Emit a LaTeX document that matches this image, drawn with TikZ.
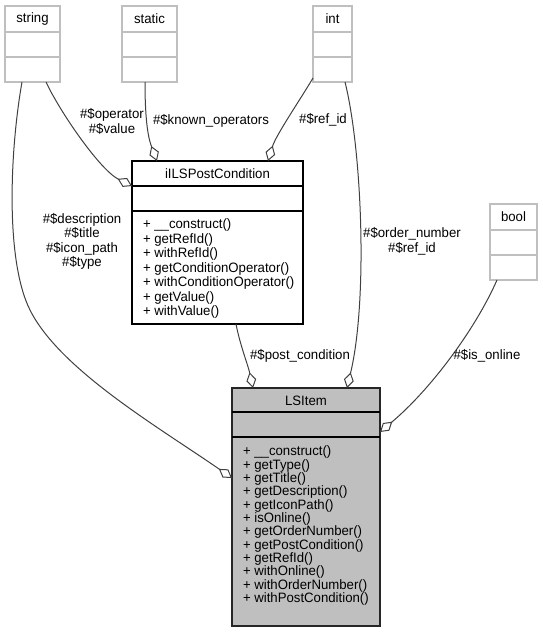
\documentclass[tikz,border=0pt]{standalone}
\usepackage{fontspec}
\setmainfont[FakeStretch=0.97]{Liberation Sans}
\usetikzlibrary{arrows.meta}
\definecolor{boxgray}{HTML}{BFBFBF}
\definecolor{edgegray}{HTML}{404040}
\definecolor{itemfill}{HTML}{BFBFBF}
\begin{document}
\begin{tikzpicture}[x=1pt,y=-1pt,
  every node/.style={font=\fontsize{13.6}{14.3}\selectfont, inner sep=0pt, outer sep=0pt},
  extbox/.style={draw=boxgray, line width=1.2pt, fill=white, anchor=north west, rectangle},
  extline/.style={draw=boxgray, line width=1.2pt},
  clsbox/.style={draw=black, line width=1.2pt, fill=white, anchor=north west, rectangle},
  mainbox/.style={draw=black!85, line width=1.4pt, fill=itemfill, anchor=north west, rectangle},
  clsline/.style={draw=black, line width=1.2pt},
  mline/.style={anchor=base west},
  lbl/.style={align=center},
  assoc/.style={draw=edgegray, line width=1pt, -{Diamond[open, length=16pt, width=10pt, line width=1pt]}}
]
\useasboundingbox (0,0) rectangle (543,632);

% external type boxes
\node[extbox, minimum width=55pt, minimum height=76pt] (string) at (5,6) {};
\draw[extline] ([yshift=-26pt]string.north west) -- ([yshift=-26pt]string.north east);
\draw[extline] ([yshift=-51pt]string.north west) -- ([yshift=-51pt]string.north east);
\node (stringT) at ([yshift=-13pt]string.north) {string};

\node[extbox, minimum width=55pt, minimum height=76pt] (static) at (122,6) {};
\draw[extline] ([yshift=-26pt]static.north west) -- ([yshift=-26pt]static.north east);
\draw[extline] ([yshift=-51pt]static.north west) -- ([yshift=-51pt]static.north east);
\node (staticT) at ([yshift=-13pt]static.north) {static};

\node[extbox, minimum width=39pt, minimum height=76pt] (int) at (313,6) {};
\draw[extline] ([yshift=-26pt]int.north west) -- ([yshift=-26pt]int.north east);
\draw[extline] ([yshift=-51pt]int.north west) -- ([yshift=-51pt]int.north east);
\node (intT) at ([yshift=-13pt]int.north) {int};

\node[extbox, minimum width=47pt, minimum height=76pt] (bool) at (490,204) {};
\draw[extline] ([yshift=-26pt]bool.north west) -- ([yshift=-26pt]bool.north east);
\draw[extline] ([yshift=-51pt]bool.north west) -- ([yshift=-51pt]bool.north east);
\node (boolT) at ([yshift=-13pt]bool.north) {bool};

% iILSPostCondition
\node[clsbox, minimum width=171pt, minimum height=163pt] (iil) at (132,161) {};
\draw[clsline] ([yshift=-25pt]iil.north west) -- ([yshift=-25pt]iil.north east);
\draw[clsline] ([yshift=-50pt]iil.north west) -- ([yshift=-50pt]iil.north east);
\node (iilT) at ([yshift=-12.5pt]iil.north) {iILSPostCondition};
\foreach [count=\i from 0] \t in {+ \_\_construct(), + getRefId(), + withRefId(),
  + getConditionOperator(), + withConditionOperator(), + getValue(), + withValue()}
  \node[mline] (iilm\i) at (143, 228.8+14.5*\i) {\t};

% LSItem
\node[mainbox, minimum width=148pt, minimum height=238pt] (item) at (232,388) {};
\draw[clsline] ([yshift=-24pt]item.north west) -- ([yshift=-24pt]item.north east);
\draw[clsline] ([yshift=-49pt]item.north west) -- ([yshift=-49pt]item.north east);
\node (itemT) at ([yshift=-12.5pt]item.north) {LSItem};
\foreach [count=\i from 0] \t in {+ \_\_construct(), + getType(), + getTitle(),
  + getDescription(), + getIconPath(), + isOnline(), + getOrderNumber(),
  + getPostCondition(), + getRefId(), + withOnline(), + withOrderNumber(),
  + withPostCondition()}
  \node[mline] (itemm\i) at (243, 455.8+13.33*\i) {\t};

% connectors
\draw[assoc] ([xshift=41pt]string.south west) .. controls (60,112) and (100,170) .. ([yshift=-25pt]iil.north west);
\draw[assoc] ([xshift=23pt]static.south west) .. controls (145,125) and (149,140) .. ([xshift=25pt]iil.north west);
\draw[assoc] ([yshift=4pt]int.south west) .. controls (300,100) and (276,135) .. ([xshift=136pt]iil.north west);
\draw[assoc] ([xshift=17pt]string.south west) .. controls (10,150) and (5,260) .. (30,310)
   .. controls (60,370) and (160,428) .. ([yshift=-90pt]item.north west);
\draw[assoc] ([xshift=32pt]int.south west) .. controls (362,150) and (368,300) .. ([xshift=115pt]item.north west);
\draw[assoc] ([xshift=104pt]iil.south west) .. controls (240,345) and (248,365) .. ([xshift=21pt]item.north west);
\draw[assoc] ([xshift=7pt]bool.south west) .. controls (475,330) and (430,390) .. ([yshift=-44pt]item.north east);

% labels
\node[lbl, font=\fontsize{13.6}{15}\selectfont] (l1) at (112,121) {\#\$operator\\\#\$value};
\node[lbl] (l2) at (211,121) {\#\$known\_operators};
\node[lbl] (l3) at (323,120) {\#\$ref\_id};
\node[lbl] (l4) at (82,241.5) {\#\$description\\\#\$title\\\#\$icon\_path\\\#\$type};
\node[lbl, font=\fontsize{13.6}{15}\selectfont] (l5) at (412,241.5) {\#\$order\_number\\\#\$ref\_id};
\node[lbl] (l6) at (300,356) {\#\$post\_condition};
\node[lbl] (l7) at (487,356) {\#\$is\_online};
\end{tikzpicture}
\end{document}
